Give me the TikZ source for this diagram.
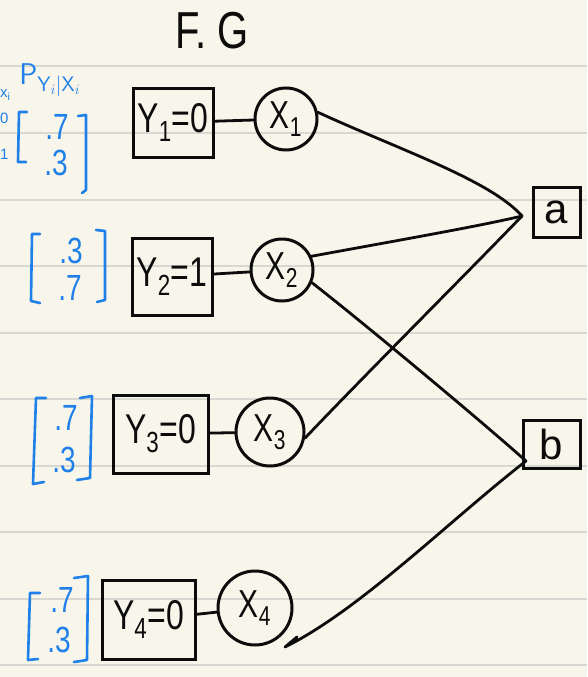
\documentclass[tikz,border=0pt]{standalone}
\usepackage{fontspec}
\setmainfont{Liberation Sans}
\usetikzlibrary{calc}

\definecolor{paper}{RGB}{248,246,234}
\definecolor{ruling}{RGB}{216,216,210}
\definecolor{ink}{RGB}{12,12,12}
\definecolor{pen}{RGB}{30,128,232}

% hand-lettering is taller than the font: stretch text vertically
\newcommand\hwtext[1]{\scalebox{1}[1.3]{#1}}

\begin{document}
\begin{tikzpicture}[x=1pt,y=-1pt,
  stroke/.style={draw=ink, line width=2.8pt, line cap=round, line join=round},
  obsbox/.style={draw=ink, line width=3pt, inner sep=0pt, text=ink,
    font=\fontsize{32}{32}\selectfont},
  varnode/.style={draw=ink, circle, line width=3pt, inner sep=0pt, text=ink,
    font=\fontsize{30}{30}\selectfont},
  factor/.style={draw=ink, line width=3pt, inner sep=0pt, text=ink,
    font=\fontsize{42}{42}\selectfont},
  blue/.style={text=pen, font=\fontsize{28}{28}\selectfont, inner sep=0pt},
  edgetext/.style={text=pen, font=\fontsize{15}{15}\selectfont, inner sep=0pt, anchor=west},
  bracket/.style={draw=pen, line width=2.6pt, line cap=round, line join=round},
]

% paper and its ruling
\fill[paper] (0,0) rectangle (587,677);
\useasboundingbox (0,0) rectangle (587,677);
\foreach \yy in {66,133,200,266,333,399,466,532,599,665}
  \draw[ruling, line width=1.8pt] (0,\yy) -- (587,\yy);

% title
\node[text=ink, font=\fontsize{40}{40}\selectfont, inner sep=0pt] (title) at (212,31) {\hwtext{F. G}};

% likelihood column heading and the narrow column at the margin
\node[text=pen, font=\fontsize{30}{30}\selectfont, inner sep=0pt] (plabel) at (50,80)
  {$\mathsf{P}_{\mathsf{Y}_i|\mathsf{X}_i}$};
\node[edgetext] (xcol) at (0,95) {x\textsubscript{i}};
\node[edgetext] (zero) at (0,118) {0};
\node[edgetext] (one) at (0,154) {1};

% likelihood vectors
\draw[bracket] (27,112) -- (19,112) -- (18,162) -- (26,162);
\draw[bracket] (78,116) -- (86,115) -- (86,190) -- (82,193);
\node[blue] (m1a) at (57,127) {\hwtext{.7}};
\node[blue] (m1b) at (56,163) {\hwtext{.3}};

\draw[bracket] (40,234) -- (32,234) -- (31,301) -- (40,303);
\draw[bracket] (96,230) -- (105,231) -- (105,300) -- (97,302);
\node[blue] (m2a) at (71,251) {\hwtext{.3}};
\node[blue] (m2b) at (70,288) {\hwtext{.7}};

\draw[bracket] (46,398) -- (36,398) -- (33,484) -- (44,482);
\draw[bracket] (80,398) -- (92,396) -- (90,478) -- (77,480);
\node[blue] (m3a) at (66,418) {\hwtext{.7}};
\node[blue] (m3b) at (64,460) {\hwtext{.3}};

\draw[bracket] (40,593) -- (30,593) -- (28,660) -- (38,659);
\draw[bracket] (74,578) -- (88,576) -- (87,660) -- (74,662);
\node[blue] (m4a) at (62,600) {\hwtext{.7}};
\node[blue] (m4b) at (59,640) {\hwtext{.3}};

% observed values
\node[obsbox, minimum width=80pt, minimum height=69pt] (Y1) at (173,122.5) {\hwtext{Y\textsubscript{1}=0}};
\node[obsbox, minimum width=80pt, minimum height=77pt] (Y2) at (172,276.5) {\hwtext{Y\textsubscript{2}=1}};
\node[obsbox, minimum width=95pt, minimum height=78pt] (Y3) at (160.5,434) {\hwtext{Y\textsubscript{3}=0}};
\node[obsbox, minimum width=93pt, minimum height=79pt] (Y4) at (148.5,619.5) {\hwtext{Y\textsubscript{4}=0}};

% hidden variables
\node[varnode, minimum size=62pt] (X1) at (286,119) {\hwtext{X\textsubscript{1}}};
\node[varnode, minimum size=62pt] (X2) at (282,270) {\hwtext{X\textsubscript{2}}};
\node[varnode, minimum size=68pt] (X3) at (270,432) {\hwtext{X\textsubscript{3}}};
\node[varnode, minimum size=74pt] (X4) at (255,608) {\hwtext{X\textsubscript{4}}};

% factors
\node[factor, minimum width=47pt, minimum height=50pt] (a) at (556.5,212) {a};
\node[factor, minimum width=57pt, minimum height=48pt] (b) at (551.5,444) {b};
\coordinate (ain) at (522,216);
\coordinate (bin) at (526,461);
\coordinate (x4tip) at (285,647);

% observation links
\draw[stroke] (Y1) -- (X1);
\draw[stroke] (Y2) -- (X2);
\draw[stroke] (Y3) -- (X3);
\draw[stroke] (Y4) -- (X4);

% variable-to-factor links
\draw[stroke] (X1.12) .. controls (400,150) and (490,180) .. (ain);
\draw[stroke] (X2.25) .. controls (400,240) and (480,226) .. (ain);
\draw[stroke] (X3.-10) .. controls (360,380) and (470,270) .. (ain);
\draw[stroke] (X2.-23) .. controls (360,320) and (480,420) .. (bin);
\draw[stroke] (bin) .. controls (450,520) and (360,610) .. (x4tip) -- ++(12,-10);

\end{tikzpicture}
\end{document}
